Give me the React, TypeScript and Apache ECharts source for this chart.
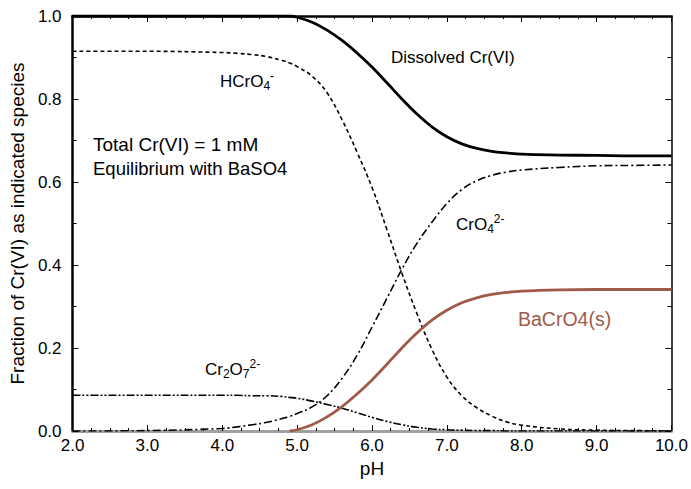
import React, { useEffect, useRef } from "react";
import * as echarts from "echarts";

const PH = [2.0, 3.0, 4.0, 4.2, 4.4, 4.6, 4.8, 4.9, 5.0, 5.2, 5.4, 5.6, 5.8, 6.0, 6.2, 6.4, 6.6, 6.8, 7.0, 7.2, 7.4, 7.6, 7.8, 8.0, 8.5, 9.0, 9.5, 10.0];

const DISSOLVED = [1, 1, 1, 1, 1, 1, 1, 1, 0.997, 0.985, 0.966, 0.941, 0.911, 0.877, 0.839, 0.8, 0.764, 0.733, 0.709, 0.692, 0.681, 0.674, 0.67, 0.667, 0.665, 0.664, 0.663, 0.663];

const HCRO4 = [0.915, 0.915, 0.912, 0.91, 0.907, 0.902, 0.893, 0.887, 0.878, 0.855, 0.815, 0.75, 0.672, 0.587, 0.485, 0.38, 0.283, 0.197, 0.13, 0.085, 0.056, 0.036, 0.022, 0.014, 0.005, 0.002, 0.001, 0];

const CRO4 = [0.0, 0.001, 0.006, 0.01, 0.015, 0.021, 0.03, 0.035, 0.042, 0.058, 0.085, 0.127, 0.182, 0.25, 0.32, 0.39, 0.452, 0.503, 0.548, 0.582, 0.603, 0.616, 0.624, 0.629, 0.635, 0.639, 0.64, 0.641];

const CR2O7 = [0.086, 0.086, 0.086, 0.086, 0.085, 0.085, 0.083, 0.081, 0.079, 0.072, 0.064, 0.055, 0.044, 0.033, 0.023, 0.015, 0.009, 0.005, 0.003, 0.002, 0.001, 0.001, 0, 0, 0, 0, 0, 0];

const BACRO4 = [null, null, null, null, null, null, null, 0, 0.003, 0.015, 0.034, 0.059, 0.089, 0.123, 0.161, 0.2, 0.236, 0.267, 0.291, 0.309, 0.321, 0.329, 0.334, 0.337, 0.34, 0.341, 0.341, 0.341];

const X_TICK_LABELS = ["2.0", "3.0", "4.0", "5.0", "6.0", "7.0", "8.0", "9.0", "10.0"];
const Y_TICK_LABELS = ["0.0", "0.2", "0.4", "0.6", "0.8", "1.0"];

const FONT = "'Liberation Sans', Arial, Helvetica, sans-serif";
const BROWN = "#a05a4a";

function pairs(vals: (number | null)[]) {
  const out: number[][] = [];
  vals.forEach((v, i) => {
    if (v !== null) out.push([PH[i], v]);
  });
  return out;
}

export default function App() {
  const ref = useRef<HTMLDivElement>(null);
  useEffect(() => {
    document.body.style.margin = "0";
    const chart = echarts.init(ref.current!, null, { renderer: "svg" });
    const txt = (size: number) => ({
      fontFamily: FONT,
      fontSize: size,
      fill: "#000",
    });
    const richStyle = {
      n: { fontFamily: FONT, fontSize: 17, lineHeight: 22, verticalAlign: "middle", color: "#000" },
      sub: { fontFamily: FONT, fontSize: 12, verticalAlign: "bottom", color: "#000" },
      sup: { fontFamily: FONT, fontSize: 12, verticalAlign: "top", color: "#000" },
    };
    const common = {
      type: "value",
      min: 2,
      max: 10,
      interval: 1,
      splitLine: { show: false },
    };
    chart.setOption({
      animation: false,
      grid: { left: 72, top: 16, right: 18, bottom: 58 },
      xAxis: [
        {
          ...common,
          position: "bottom",
          axisLine: { show: true, onZero: false, lineStyle: { color: "#a0a0a0", width: 3 } },
          axisTick: { show: true, inside: true, length: 6, lineStyle: { color: "#000", width: 1 } },
          minorTick: { show: true, splitNumber: 4, length: 3, lineStyle: { color: "#000", width: 1 } },
          axisLabel: {
            color: "#000",
            fontFamily: FONT,
            fontSize: 17,
            margin: 6,
            formatter: (v: number) => X_TICK_LABELS[Math.round(v - 2)] ?? "",
          },
          name: "pH",
          nameLocation: "middle",
          nameGap: 28,
          nameTextStyle: { color: "#000", fontFamily: FONT, fontSize: 19 },
        },
        {
          ...common,
          position: "top",
          axisLine: { show: true, onZero: false, lineStyle: { color: "#000", width: 2.5 } },
          axisTick: { show: true, inside: true, length: 6, lineStyle: { color: "#000", width: 1 } },
          minorTick: { show: true, splitNumber: 4, length: 3, lineStyle: { color: "#000", width: 1 } },
          axisLabel: { show: false },
        },
      ],
      yAxis: [
        {
          type: "value",
          min: 0,
          max: 1,
          interval: 0.2,
          position: "left",
          splitLine: { show: false },
          axisLine: { show: true, onZero: false, lineStyle: { color: "#000", width: 2.5 } },
          axisTick: { show: true, inside: true, length: 6, lineStyle: { color: "#000", width: 1 } },
          minorTick: { show: true, splitNumber: 2, length: 4, lineStyle: { color: "#000", width: 1 } },
          axisLabel: {
            color: "#000",
            fontFamily: FONT,
            fontSize: 17,
            margin: 11,
            formatter: (v: number) => Y_TICK_LABELS[Math.round(v * 5)] ?? "",
          },
          name: "Fraction of Cr(VI) as indicated species",
          nameLocation: "middle",
          nameGap: 44,
          nameTextStyle: { color: "#000", fontFamily: FONT, fontSize: 19 },
        },
        {
          type: "value",
          min: 0,
          max: 1,
          interval: 0.2,
          position: "right",
          splitLine: { show: false },
          axisLine: { show: true, onZero: false, lineStyle: { color: "#000", width: 1.5 } },
          axisTick: { show: true, inside: true, length: 6, lineStyle: { color: "#000", width: 1 } },
          minorTick: { show: true, splitNumber: 2, length: 4, lineStyle: { color: "#000", width: 1 } },
          axisLabel: { show: false },
        },
      ],
      series: [
        {
          name: "Cr2O7",
          type: "line",
          data: pairs(CR2O7),
          smooth: 0.4,
          symbol: "none",
          lineStyle: { color: "#000", width: 1.6, type: [8, 2, 2, 2, 2, 2] },
        },
        {
          name: "CrO4",
          type: "line",
          data: pairs(CRO4),
          smooth: 0.4,
          symbol: "none",
          lineStyle: { color: "#000", width: 1.6, type: [8, 3, 2, 3] },
        },
        {
          name: "HCrO4",
          type: "line",
          data: pairs(HCRO4),
          smooth: 0.4,
          symbol: "none",
          lineStyle: { color: "#000", width: 1.6, type: [4, 3] },
        },
        {
          name: "BaCrO4",
          type: "line",
          data: pairs(BACRO4),
          smooth: 0.4,
          symbol: "none",
          lineStyle: { color: BROWN, width: 2.8 },
        },
        {
          name: "Dissolved",
          type: "line",
          data: pairs(DISSOLVED),
          smooth: 0.4,
          symbol: "none",
          lineStyle: { color: "#000", width: 2.8 },
        },
      ],
      graphic: [
        { type: "text", left: 391, top: 49, style: { text: "Dissolved Cr(VI)", ...txt(17) } },
        { type: "text", left: 93, top: 135, style: { text: "Total Cr(VI) = 1 mM", ...txt(19) } },
        { type: "text", left: 93, top: 159, style: { text: "Equilibrium with BaSO4", ...txt(18.5) } },
        { type: "text", left: 518, top: 309, style: { text: "BaCrO4(s)", fontFamily: FONT, fontSize: 19.5, fill: BROWN } },
        {
          type: "text",
          left: 220,
          top: 70,
          style: { text: "{n|HCrO}{sub|4}{sup|-}", rich: richStyle },
        },
        {
          type: "text",
          left: 456,
          top: 213,
          style: { text: "{n|CrO}{sub|4}{sup|2-}", rich: richStyle },
        },
        {
          type: "text",
          left: 205,
          top: 358,
          style: { text: "{n|Cr}{sub|2}{n|O}{sub|7}{sup|2-}", rich: richStyle },
        },
      ],
    });
    return () => chart.dispose();
  }, []);
  return <div ref={ref} style={{ width: 691, height: 489 }} />;
}
